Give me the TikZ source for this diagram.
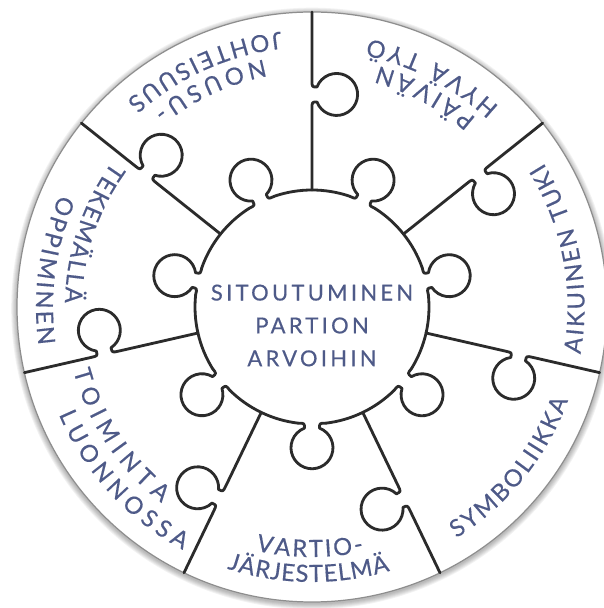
\documentclass[tikz,border=0pt]{standalone}
\usepackage{fontspec}
\setmainfont{Lato}
\usetikzlibrary{calc,decorations.text}
\definecolor{pieceline}{HTML}{2B2B2B}
\definecolor{labelblue}{HTML}{4E5A88}
\definecolor{rimgray}{HTML}{8E8E8E}
\newfontfamily\corefont[LetterSpace=15,FakeBold=0.4]{Lato}
\newfontfamily\piecefont[FakeBold=0.4]{Lato}

% knob of a puzzle piece: base centred at (#1,#2), bulging towards +y
\newcommand{\knob}[2]{(#1-0.28,#2) .. controls (#1-0.15,#2) .. (#1-0.15,#2+0.1)
  arc[start angle=249, end angle=-69, radius=0.42] .. controls (#1+0.15,#2) .. (#1+0.28,#2)}
% text along a counter-clockwise arc round the centre
\newcommand{\arclabel}[4]{%
  \path[decorate, decoration={text along path, text align={fit to path},
    text={|\piecefont\fontsize{13.5}{15}\selectfont\color{labelblue}|#4}}]
    ($(c)+(#2:#1)$) arc[start angle=#2, end angle=#3, radius=#1];}

\begin{document}
\begin{tikzpicture}[
    piece/.style={draw=pieceline, line width=1.6pt, line cap=round, line join=round},
    core/.style={font=\corefont\fontsize{12.5}{18.7}\selectfont, text=labelblue, align=center}
]
\useasboundingbox (0,0) rectangle (12.06,12.16);
\def\R{5.9}
\def\rin{2.34}
\def\yin{2.3232}
\def\dang{6.87}
\def\rknob{4.25}
\coordinate (c) at (6.24,6.02);
% soft rim shadow
\foreach \i in {1,...,6}
  \draw[black, opacity=0.05, line width=\i*1.1pt] ($(c)+(0,-0.03)$) circle[radius=\R];
\fill[white] (c) circle[radius=\R];
\draw[rimgray, line width=0.7pt] (c) circle[radius=\R];
% seams between the outer pieces
\foreach \k in {0,...,6}{
  \begin{scope}[shift={(c)}, rotate={90-\k*360/7}, yscale=-1]
    \draw[piece] (\rin,0) -- \knob{\rknob}{0} -- (\R,0);
  \end{scope}
}
% centre piece
\foreach \k in {0,...,6}{
  \pgfmathsetmacro{\tabang}{90-360/14-\k*360/7}
  \begin{scope}[shift={(c)}, rotate=\tabang-90]
    \draw[piece] \knob{0}{\yin};
  \end{scope}
  \draw[piece] ($(c)+(\tabang-\dang:\rin)$) arc[start angle=\tabang-\dang, end angle=\tabang-360/7+\dang, radius=\rin];
}
\node[core] (core) at ($(c)+(0,-0.37)$) {SITOUTUMINEN\\PARTION\\ARVOIHIN};
% labels of the outer pieces
\arclabel{5.04}{101}{129}{NOUSU-}
\arclabel{5.54}{96.5}{132}{JOHTEISUUS}
\arclabel{5.0}{49}{74.5}{PÄIVÄN}
\arclabel{5.48}{47}{78}{HYVÄ TYÖ}
\arclabel{5.45}{-10}{32}{AIKUINEN TUKI}
\arclabel{5.45}{-58}{-20}{SYMBOLIIKKA}
\arclabel{5.0}{-103}{-78}{VARTIO-}
\arclabel{5.5}{-108}{-73.5}{JÄRJESTELMÄ}
\arclabel{4.94}{195}{232.5}{TOIMINTA}
\arclabel{5.5}{203}{242}{LUONNOSSA}
\arclabel{4.94}{144}{179}{TEKEMÄLLÄ}
\arclabel{5.52}{156}{188}{OPPIMINEN}
\end{tikzpicture}
\end{document}
